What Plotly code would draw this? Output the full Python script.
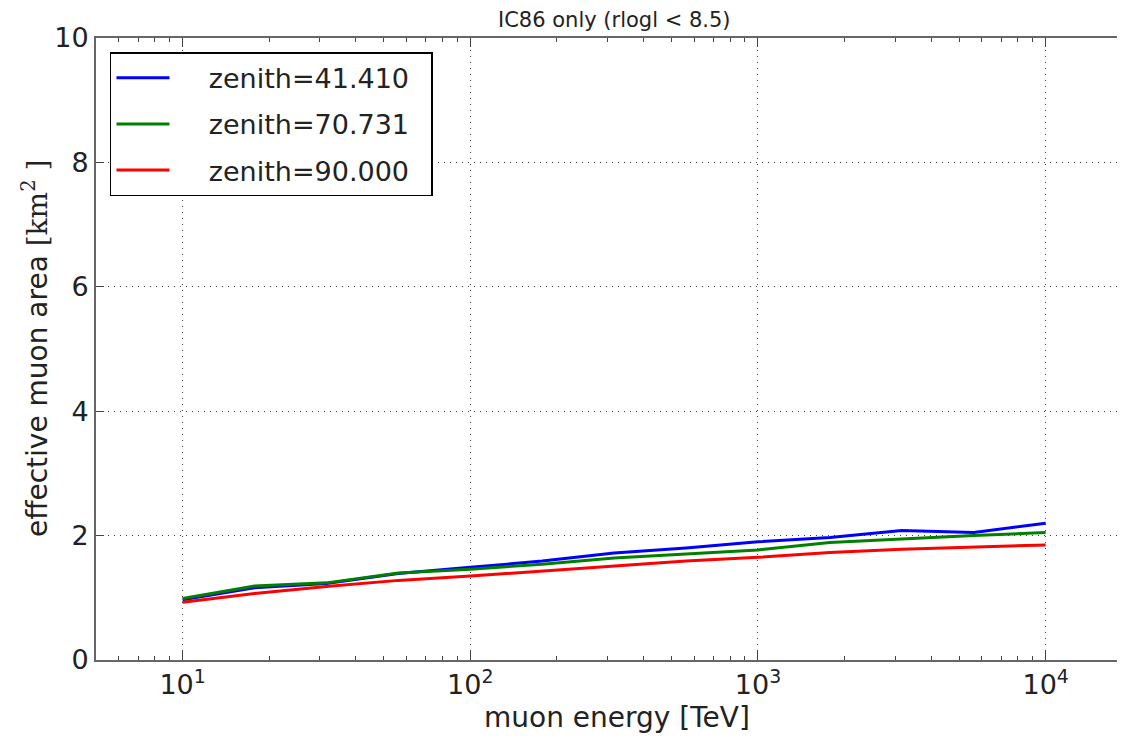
import numpy as np
import plotly.graph_objects as go

energy = [10, 17.78, 31.62, 56.23, 100, 177.8, 316.2, 562.3, 1000, 1778, 3162, 5623, 10000]
zen_41 = [0.97, 1.16, 1.23, 1.39, 1.49, 1.59, 1.72, 1.80, 1.90, 1.97, 2.08, 2.05, 2.20]
zen_70 = [0.99, 1.19, 1.24, 1.40, 1.46, 1.54, 1.64, 1.70, 1.77, 1.89, 1.95, 2.00, 2.05]
zen_90 = [0.93, 1.07, 1.18, 1.28, 1.35, 1.43, 1.52, 1.59, 1.65, 1.73, 1.78, 1.82, 1.85]
labels = ["zenith=41.410", "zenith=70.731", "zenith=90.000"]
colors = ["#0000ff", "#008000", "#ff0000"]

x_major = [10, 100, 1000, 10000]
x_major_text = ["10<sup>1</sup>", "10<sup>2</sup>", "10<sup>3</sup>", "10<sup>4</sup>"]
x_minor = [m * 10 ** d for d in range(0, 5) for m in range(2, 10) if 5 <= m * 10 ** d <= 19000]
y_ticks = [0, 2, 4, 6, 8, 10]

FONT = "DejaVu Sans"
PAD = "\u00a0" * 4
fig = go.Figure()
for ys, name, col in zip([zen_41, zen_70, zen_90], labels, colors):
    fig.add_trace(go.Scatter(x=energy, y=ys, mode="lines", name=PAD + name + "\u00a0\u00a0",
                             legendgroup=name, line=dict(color=col, width=3)))

axis_common = dict(showline=True, linewidth=2, linecolor="#666666", ticks="inside",
                   tickcolor="#444444", showgrid=True, gridcolor="rgba(0,0,0,0.75)",
                   gridwidth=1, griddash="1px,5px", zeroline=False,
                   tickfont=dict(family=FONT, size=27, color="#222222"))

fig.update_layout(
    width=1109, height=727,
    margin=dict(l=88, r=0, t=29.5, b=75),
    paper_bgcolor="white", plot_bgcolor="white",
    font=dict(family=FONT, color="#222222"),
    xaxis=dict(type="log", range=[np.log10(5), 4.248], tickmode="array", tickvals=x_major,
               ticktext=x_major_text, ticklen=9, mirror="ticks",
               minor=dict(tickmode="array", tickvals=x_minor, ticks="inside", ticklen=4,
                          tickcolor="#444444", showgrid=False),
               **axis_common),
    yaxis=dict(range=[0, 10], tickmode="array", tickvals=y_ticks, ticklen=8, mirror=False,
               **axis_common),
    legend=dict(x=0.0137, y=0.977, xanchor="left", yanchor="top", bgcolor="white",
                bordercolor="black", borderwidth=1.5, font=dict(family=FONT, size=27, color="#222222"),
                tracegroupgap=8, itemwidth=53),
    annotations=[
        dict(text="IC86 only (rlogl &lt; 8.5)", x=0.508, y=1.0, xref="paper", yref="paper",
             xanchor="center", yanchor="bottom", yshift=4, showarrow=False,
             font=dict(family=FONT, size=21, color="#222222")),
        dict(text="muon energy [TeV]", x=0.510, y=-0.093, xref="paper", yref="paper",
             xanchor="center", yanchor="middle", showarrow=False,
             font=dict(family=FONT, size=28, color="#222222")),
        dict(text="effective muon area <span style='font-family:DejaVu Serif'>[km<sup>2</sup> ]</span>",
             x=-0.0597, y=0.5, xref="paper", yref="paper", textangle=-90,
             xanchor="center", yanchor="middle", showarrow=False,
             font=dict(family=FONT, size=28, color="#222222")),
    ],
)
fig.write_html("out.html")
